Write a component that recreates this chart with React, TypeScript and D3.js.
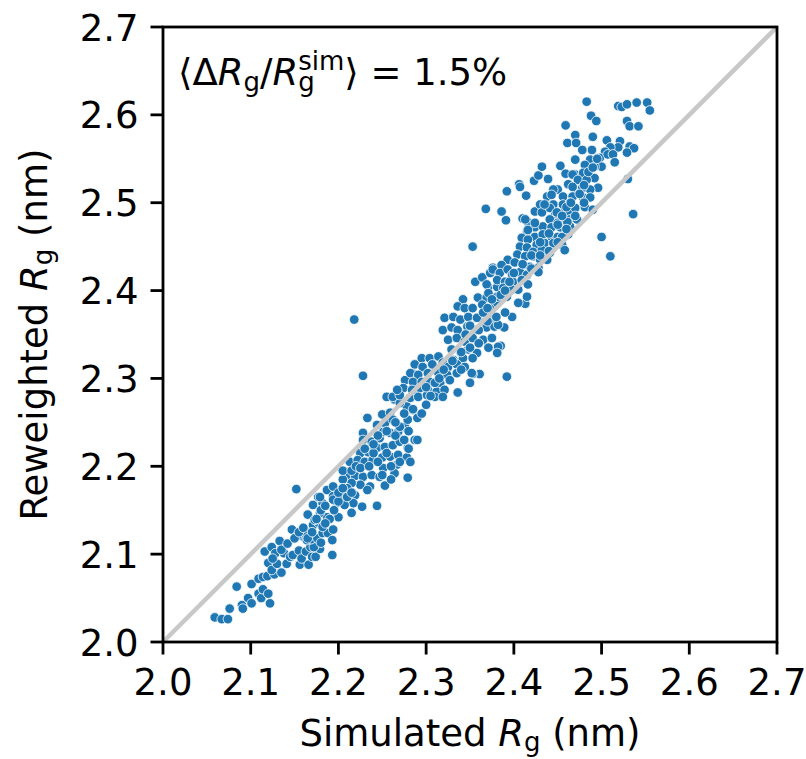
import React from 'react';
import * as d3 from 'd3';

// simulated Rg (nm)
const simulatedRg = [
  2.059, 2.067, 2.074, 2.076, 2.084, 2.090, 2.091, 2.097, 2.101, 2.101, 2.109, 2.112, 2.114, 2.120, 2.122,
  2.109, 2.114, 2.119, 2.127, 2.135, 2.120, 2.124, 2.130, 2.116, 2.124, 2.128, 2.133, 2.138, 2.141, 2.145,
  2.148, 2.155, 2.156, 2.158, 2.163, 2.166, 2.170, 2.174, 2.179, 2.168, 2.172, 2.160, 2.164, 2.169, 2.176,
  2.180, 2.182, 2.188, 2.193, 2.193, 2.147, 2.153, 2.163, 2.171, 2.177, 2.182, 2.187, 2.194, 2.165, 2.173,
  2.179, 2.171, 2.177, 2.182, 2.187, 2.194, 2.198, 2.200, 2.152,
  2.228, 2.255, 2.264, 2.233, 2.250, 2.259, 2.228, 2.244, 2.253, 2.262, 2.228, 2.238, 2.247, 2.251, 2.259,
  2.268, 2.276, 2.279, 2.285, 2.278, 2.282, 2.287, 2.284, 2.276, 2.284, 2.270, 2.225, 2.234, 2.244, 2.253,
  2.262, 2.270, 2.279, 2.287, 2.213, 2.222, 2.230, 2.239, 2.250, 2.259, 2.268, 2.278, 2.282, 2.267, 2.251,
  2.210, 2.219, 2.228, 2.238, 2.247, 2.264, 2.279, 2.253, 2.236, 2.225, 2.215, 2.205, 2.194, 2.210, 2.179,
  2.194, 2.205, 2.219, 2.227, 2.217, 2.207, 2.215, 2.244, 2.233,
  2.218, 2.392, 2.398, 2.389, 2.385, 2.413, 2.405, 2.361, 2.353, 2.336,
  2.356, 2.364, 2.373, 2.376, 2.371, 2.381, 2.359, 2.369, 2.342, 2.336, 2.344, 2.353, 2.364, 2.375, 2.381,
  2.321, 2.331, 2.339, 2.348, 2.358, 2.367, 2.376, 2.319, 2.329, 2.336, 2.347, 2.356, 2.369, 2.378, 2.325,
  2.335, 2.344, 2.353, 2.365, 2.375, 2.382, 2.329, 2.339, 2.348, 2.358, 2.371, 2.381, 2.295, 2.304, 2.314,
  2.319, 2.331, 2.342, 2.353, 2.287, 2.296, 2.307, 2.325, 2.335, 2.344, 2.282, 2.291, 2.302, 2.314, 2.324,
  2.335, 2.352, 2.350, 2.285, 2.295, 2.304, 2.316, 2.327, 2.274, 2.284, 2.293, 2.302, 2.312, 2.321, 2.262,
  2.270, 2.291, 2.301, 2.310, 2.319, 2.267, 2.382,
  2.353, 2.368, 2.386, 2.391, 2.392, 2.406, 2.414, 2.423, 2.428, 2.432, 2.439, 2.453, 2.459, 2.470, 2.470,
  2.410, 2.416, 2.424, 2.430, 2.438, 2.445, 2.450, 2.462, 2.472, 2.432, 2.441, 2.447, 2.455, 2.462, 2.470,
  2.441, 2.453, 2.464, 2.472, 2.424, 2.433, 2.443, 2.453, 2.464, 2.415, 2.424, 2.433, 2.443, 2.450, 2.462,
  2.409, 2.416, 2.426, 2.435, 2.445, 2.455, 2.458, 2.407, 2.415, 2.422, 2.432, 2.441, 2.404, 2.413, 2.422,
  2.430, 2.438, 2.393, 2.401, 2.410, 2.418, 2.428, 2.386, 2.376, 2.384, 2.393, 2.398, 2.407, 2.415, 2.381,
  2.390, 2.399, 2.409, 2.416, 2.369, 2.388, 2.398, 2.405, 2.415, 2.371, 2.381, 2.392, 2.428,
  2.483, 2.519, 2.523, 2.529, 2.540, 2.552, 2.555, 2.529, 2.532, 2.542, 2.488, 2.494, 2.459, 2.470, 2.461,
  2.471, 2.490, 2.506, 2.521, 2.532, 2.537, 2.529, 2.519, 2.510, 2.504, 2.489, 2.478, 2.487, 2.498, 2.507,
  2.513, 2.515, 2.500, 2.492, 2.481, 2.467, 2.479, 2.492, 2.473, 2.483, 2.496, 2.487, 2.478, 2.467, 2.445,
  2.443, 2.456, 2.467, 2.479, 2.487, 2.435, 2.456, 2.464, 2.481, 2.490, 2.449, 2.413, 2.424, 2.450, 2.461,
  2.416, 2.455, 2.500, 2.536, 2.530, 2.407, 2.510,
];

// reweighted Rg (nm), same order
const reweightedRg = [
  2.028, 2.026, 2.026, 2.038, 2.063, 2.042, 2.038, 2.050, 2.044, 2.066, 2.055, 2.050, 2.060, 2.055, 2.044,
  2.072, 2.074, 2.075, 2.077, 2.079, 2.090, 2.082, 2.089, 2.103, 2.108, 2.101, 2.115, 2.101, 2.089, 2.097,
  2.099, 2.104, 2.088, 2.095, 2.103, 2.088, 2.097, 2.097, 2.106, 2.108, 2.108, 2.120, 2.116, 2.117, 2.118,
  2.113, 2.124, 2.124, 2.116, 2.099, 2.128, 2.121, 2.125, 2.133, 2.136, 2.131, 2.142, 2.128, 2.145, 2.139,
  2.147, 2.156, 2.165, 2.158, 2.173, 2.166, 2.158, 2.142, 2.174,
  2.303, 2.279, 2.276, 2.255, 2.259, 2.261, 2.238, 2.247, 2.249, 2.253, 2.230, 2.228, 2.232, 2.239, 2.238,
  2.239, 2.245, 2.253, 2.264, 2.268, 2.278, 2.287, 2.298, 2.298, 2.306, 2.272, 2.215, 2.216, 2.221, 2.222,
  2.224, 2.228, 2.221, 2.230, 2.205, 2.207, 2.205, 2.207, 2.210, 2.211, 2.213, 2.210, 2.205, 2.202, 2.198,
  2.190, 2.189, 2.188, 2.190, 2.188, 2.192, 2.187, 2.178, 2.177, 2.179, 2.181, 2.185, 2.177, 2.175, 2.165,
  2.162, 2.165, 2.167, 2.154, 2.158, 2.156, 2.147, 2.155, 2.173,
  2.367, 2.302, 2.370, 2.358, 2.337, 2.385, 2.386, 2.305, 2.305, 2.284,
  2.410, 2.415, 2.420, 2.426, 2.404, 2.404, 2.392, 2.392, 2.390, 2.382, 2.380, 2.380, 2.384, 2.380, 2.386,
  2.369, 2.370, 2.367, 2.370, 2.369, 2.364, 2.367, 2.355, 2.358, 2.355, 2.359, 2.355, 2.358, 2.359, 2.344,
  2.346, 2.342, 2.346, 2.344, 2.346, 2.336, 2.333, 2.330, 2.333, 2.329, 2.335, 2.329, 2.323, 2.323, 2.325,
  2.318, 2.321, 2.323, 2.323, 2.316, 2.313, 2.316, 2.313, 2.316, 2.313, 2.306, 2.304, 2.306, 2.306, 2.304,
  2.306, 2.306, 2.295, 2.296, 2.296, 2.296, 2.295, 2.298, 2.289, 2.287, 2.289, 2.287, 2.285, 2.287, 2.279,
  2.281, 2.279, 2.281, 2.279, 2.279, 2.287, 2.361,
  2.450, 2.493, 2.490, 2.480, 2.513, 2.521, 2.508, 2.525, 2.531, 2.541, 2.527, 2.542, 2.533, 2.549, 2.532,
  2.482, 2.478, 2.490, 2.498, 2.507, 2.498, 2.515, 2.521, 2.511, 2.489, 2.494, 2.486, 2.490, 2.489, 2.494,
  2.481, 2.481, 2.481, 2.481, 2.472, 2.473, 2.472, 2.472, 2.473, 2.467, 2.461, 2.464, 2.461, 2.461, 2.464,
  2.460, 2.458, 2.452, 2.454, 2.454, 2.452, 2.446, 2.450, 2.449, 2.444, 2.446, 2.443, 2.441, 2.439, 2.439,
  2.435, 2.435, 2.435, 2.432, 2.429, 2.427, 2.426, 2.429, 2.424, 2.420, 2.424, 2.418, 2.421, 2.418, 2.412,
  2.410, 2.410, 2.412, 2.407, 2.407, 2.403, 2.401, 2.401, 2.393, 2.397, 2.393, 2.393, 2.421,
  2.615, 2.610, 2.609, 2.612, 2.614, 2.614, 2.605, 2.593, 2.587, 2.587, 2.599, 2.593, 2.588, 2.577, 2.568,
  2.568, 2.575, 2.571, 2.570, 2.564, 2.562, 2.557, 2.563, 2.563, 2.558, 2.560, 2.560, 2.549, 2.551, 2.555,
  2.555, 2.546, 2.541, 2.541, 2.543, 2.532, 2.534, 2.528, 2.526, 2.526, 2.517, 2.515, 2.517, 2.518, 2.515,
  2.509, 2.507, 2.507, 2.506, 2.506, 2.498, 2.498, 2.500, 2.495, 2.492, 2.489, 2.481, 2.477, 2.477, 2.478,
  2.469, 2.461, 2.461, 2.487, 2.527, 2.518, 2.439,
];

// extra points in the dense core of the cloud
const coreSimulated = [
  2.125, 2.135, 2.142, 2.150, 2.155, 2.160, 2.165, 2.170, 2.175, 2.180, 2.185, 2.190, 2.195, 2.200, 2.185,
  2.200, 2.205, 2.210, 2.215,
  2.205, 2.215, 2.220, 2.225, 2.235, 2.240, 2.245, 2.255, 2.260, 2.265, 2.270, 2.275, 2.280, 2.290, 2.295,
  2.300, 2.285, 2.275, 2.265, 2.255, 2.245, 2.240, 2.230, 2.300, 2.305, 2.310, 2.315, 2.250, 2.260, 2.270,
  2.280, 2.290,
  2.320, 2.330, 2.340, 2.345, 2.350, 2.360, 2.365, 2.370, 2.375, 2.385, 2.390, 2.395, 2.400, 2.390, 2.380,
  2.370, 2.360, 2.350, 2.340,
  2.410, 2.420, 2.430, 2.440, 2.450, 2.455, 2.460, 2.465, 2.475, 2.480, 2.485, 2.490, 2.495, 2.480, 2.470,
  2.460, 2.450, 2.440, 2.430, 2.420,
];

const coreReweighted = [
  2.095, 2.105, 2.112, 2.118, 2.125, 2.130, 2.118, 2.125, 2.140, 2.150, 2.155, 2.140, 2.150, 2.160, 2.135,
  2.170, 2.175, 2.165, 2.170,
  2.195, 2.195, 2.200, 2.198, 2.200, 2.215, 2.205, 2.215, 2.200, 2.235, 2.245, 2.230, 2.240, 2.255, 2.260,
  2.270, 2.265, 2.260, 2.250, 2.240, 2.235, 2.225, 2.220, 2.290, 2.280, 2.295, 2.300, 2.190, 2.185, 2.205,
  2.220, 2.230,
  2.310, 2.320, 2.330, 2.350, 2.360, 2.355, 2.375, 2.380, 2.390, 2.395, 2.400, 2.410, 2.420, 2.375, 2.370,
  2.365, 2.340, 2.335, 2.310,
  2.430, 2.440, 2.455, 2.465, 2.475, 2.485, 2.495, 2.500, 2.510, 2.520, 2.535, 2.540, 2.550, 2.500, 2.485,
  2.470, 2.455, 2.445, 2.440, 2.425,
];

const tickValues = [2.0, 2.1, 2.2, 2.3, 2.4, 2.5, 2.6, 2.7];
const domain = [2.0, 2.7];

const FONT = 'DejaVu Sans';
const FS = 37;
const SUB = 26;

export default function App() {
  const W = 806;
  const H = 759;
  const left = 163, right = 777, top = 27, bottom = 642;
  const tickLen = 12.5;

  const x = d3.scaleLinear().domain(domain).range([left, right]);
  const y = d3.scaleLinear().domain(domain).range([bottom, top]);

  const points = [
    ...simulatedRg.map((s, i) => [s, reweightedRg[i]]),
    ...coreSimulated.map((s, i) => [s, coreReweighted[i]]),
  ];

  return (
    <svg width={W} height={H} style={{ position: 'absolute', left: 0, top: 0, background: '#fff' }}
      fontFamily={FONT}>
      <rect x={0} y={0} width={W} height={H} fill="#fff" />
      {/* scatter */}
      <g>
        {points.map(([s, r], i) => (
          <circle key={i} cx={x(s)} cy={y(r)} r={4.8} fill="#1f77b4" stroke="#fff" strokeWidth={0.8} />
        ))}
      </g>
      {/* identity line */}
      <line x1={x(domain[0])} y1={y(domain[0])} x2={x(domain[1])} y2={y(domain[1])}
        stroke="#c8c8c8" strokeWidth={4.5} />
      {/* spines */}
      <rect x={left} y={top} width={right - left} height={bottom - top} fill="none" stroke="#000" strokeWidth={2.8} />
      {/* x ticks */}
      {tickValues.map(t => (
        <g key={'x' + t}>
          <line x1={x(t)} x2={x(t)} y1={bottom} y2={bottom + tickLen} stroke="#000" strokeWidth={2.8} />
          <text x={x(t)} y={695} fontSize={FS} textAnchor="middle">{t.toFixed(1)}</text>
        </g>
      ))}
      {/* y ticks */}
      {tickValues.map(t => (
        <g key={'y' + t}>
          <line x1={left - tickLen} x2={left} y1={y(t)} y2={y(t)} stroke="#000" strokeWidth={2.8} />
          <text x={left - tickLen - 12} y={y(t) + 13.5} fontSize={FS} textAnchor="end">{t.toFixed(1)}</text>
        </g>
      ))}
      {/* axis labels */}
      <text x={(left + right) / 2} y={746} fontSize={FS} textAnchor="middle">
        Simulated <tspan fontStyle="italic">R</tspan><tspan fontSize={SUB} dy={5}>g</tspan><tspan dy={-5}> (nm)</tspan>
      </text>
      <text transform={`translate(47, ${(top + bottom) / 2}) rotate(-90)`} fontSize={FS} textAnchor="middle">
        Reweighted <tspan fontStyle="italic">R</tspan><tspan fontSize={SUB} dy={5}>g</tspan><tspan dy={-5}> (nm)</tspan>
      </text>
      {/* annotation */}
      <text x={178} y={85} fontSize={FS}>
        ⟨Δ<tspan fontStyle="italic">R</tspan><tspan fontSize={SUB} dy={6}>g</tspan><tspan dy={-6}>/</tspan><tspan fontStyle="italic">R</tspan><tspan fontSize={SUB} dy={6}>g</tspan><tspan fontSize={SUB} dx={-16.5} dy={-21}>sim</tspan><tspan dy={15}>⟩ = 1.5%</tspan>
      </text>
    </svg>
  );
}
